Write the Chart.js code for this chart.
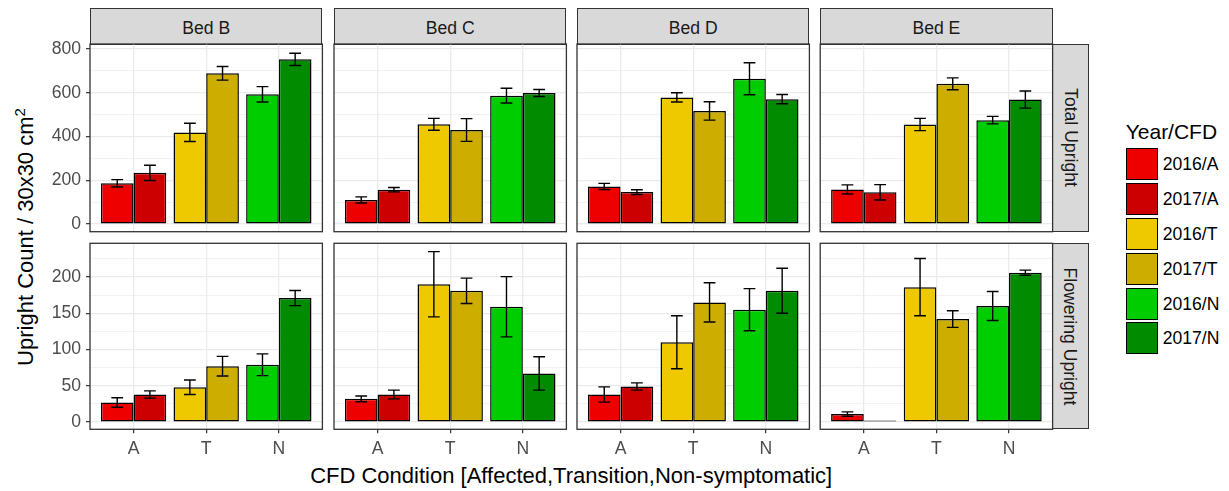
<!DOCTYPE html>
<html>
<head>
<meta charset="utf-8">
<script src="https://cdn.jsdelivr.net/npm/chart.js@4.4.1/dist/chart.umd.min.js"></script>
<style>
  body { margin: 0; background: #fff; }
  #wrap { position: relative; width: 1229px; height: 491px; overflow: hidden; background: #fff;
          font-family: 'Liberation Sans', Arial, sans-serif; }
  canvas { position: absolute; }
  .strip { position: absolute; box-sizing: border-box; background: #D9D9D9; border: 1.3px solid #333;
           color: #1A1A1A; font-size: 17.6px; display: flex; align-items: center; justify-content: center;
           white-space: nowrap; }
  .strip.top { padding-top: 4px; }
  .strip.side span { display: inline-block; transform: rotate(90deg); }
  #ytitle { position: absolute; left: 26px; top: 236.7px; transform: translate(-50%, -50%) rotate(-90deg);
            font-size: 22px; white-space: nowrap; color: #000; }
  #ytitle sup { font-size: 15px; line-height: 0; }
  #xtitle { position: absolute; left: 571.2px; top: 463.4px; transform: translateX(-50%);
            font-size: 22px; line-height: 26px; white-space: nowrap; color: #000; }
  #legtitle { position: absolute; left: 1125.7px; top: 120px; font-size: 21px; line-height: 24px; color: #000; }
  .key { position: absolute; box-sizing: border-box; width: 32px; height: 32px; border: 1.4px solid #000; }
  .klabel { position: absolute; font-size: 17.6px; line-height: 32px; color: #000; white-space: nowrap; }
</style>
</head>
<body>
<div id="wrap">
  <div id="ytitle">Upright Count / 30x30 cm<sup>2</sup></div>
  <div id="xtitle">CFD Condition [Affected,Transition,Non-symptomatic]</div>
  <div id="legtitle">Year/CFD</div>
</div>
<script>
// facets and categories
const beds = ['Bed B', 'Bed C', 'Bed D', 'Bed E'];
const facets = ['Total Upright', 'Flowering Upright'];
const conditions = ['A', 'T', 'N'];
const legendLabels = ['2016/A', '2017/A', '2016/T', '2017/T', '2016/N', '2017/N'];
const legendColors = ['#EE0000', '#CD0000', '#EEC900', '#CDAD00', '#00CD00', '#008B00'];
const colors2016 = legendColors.filter((c, i) => i % 2 === 0);
const colors2017 = legendColors.filter((c, i) => i % 2 === 1);

// means and standard errors, one row per bed (B, C, D, E), columns A, T, N
const total2016 = [[186, 419, 593], [110, 456, 587], [172, 579, 664], [158, 455, 475]];
const total2017 = [[234, 689, 753], [157, 430, 599], [146, 517, 571], [145, 641, 569]];
const totalSe2016 = [[17, 42, 35], [14, 27, 34], [14, 21, 73], [21, 28, 17]];
const totalSe2017 = [[35, 31, 28], [10, 52, 16], [11, 42, 21], [35, 27, 39]];

const flower2016 = [[27, 48, 79], [32, 190, 159], [38, 110, 155], [11, 186, 160]];
const flower2017 = [[38, 77, 171], [38, 181, 67], [49, 165, 181], [1, 142, 206]];
const flowerSe2016 = [[6.5, 10, 15], [4, 45, 41.5], [10.5, 36.5, 29], [3, 39.5, 20]];
const flowerSe2017 = [[5, 13.5, 10.5], [6, 17.5, 23], [5, 27, 31], [0, 11.5, 3.5]];

// y ticks per facet row
const totalTicks = [0, 200, 400, 600, 800];
const totalMinor = [100, 300, 500, 700];
const flowerTicks = [0, 50, 100, 150, 200];
const flowerMinor = [25, 75, 125, 175, 225];

// panel geometry
const panelLeft = [90, 334, 577, 820.2];
const panelWidth = 232.4;
const rowTop = [44, 243.3];
const rowHeight = [187.7, 186];
const yLimits = [[-35, 823], [-10, 246.5]];

Chart.defaults.font.family = "'Liberation Sans', Arial, sans-serif";

const wrap = document.getElementById('wrap');

const errorBars = {
    id: 'errorBars',
    afterDatasetsDraw(chart) {
        const ctx = chart.ctx;
        const yScale = chart.scales.y;
        chart.data.datasets.forEach((ds, i) => {
            const meta = chart.getDatasetMeta(i);
            meta.data.forEach((bar, j) => {
                const se = ds.errors[j];
                if (!se) return;
                const v = ds.data[j].y;
                const yTop = yScale.getPixelForValue(v + se);
                const yBot = yScale.getPixelForValue(v - se);
                const half = bar.width * 0.18;
                ctx.save();
                ctx.strokeStyle = '#000';
                ctx.lineWidth = 1.4;
                ctx.beginPath();
                ctx.moveTo(bar.x, yTop);
                ctx.lineTo(bar.x, yBot);
                ctx.moveTo(bar.x - half, yTop);
                ctx.lineTo(bar.x + half, yTop);
                ctx.moveTo(bar.x - half, yBot);
                ctx.lineTo(bar.x + half, yBot);
                ctx.stroke();
                ctx.restore();
            });
        });
    }
};

const panelBorder = {
    id: 'panelBorder',
    afterDraw(chart) {
        const a = chart.chartArea;
        const ctx = chart.ctx;
        ctx.save();
        ctx.strokeStyle = '#333333';
        ctx.lineWidth = 1.3;
        ctx.strokeRect(a.left, a.top, a.right - a.left, a.bottom - a.top);
        ctx.restore();
    }
};

function makePanel(r, c) {
    const leftCol = c === 0;
    const bottomRow = r === 1;
    const pad = 8;
    const x0 = leftCol ? 0 : Math.floor(panelLeft[c]) - pad;
    const y0 = Math.floor(rowTop[r]) - pad;
    const x1 = Math.ceil(panelLeft[c] + panelWidth) + pad;
    const y1 = bottomRow ? 491 : Math.ceil(rowTop[r] + rowHeight[r]) + pad;
    const plotBottom = rowTop[r] + rowHeight[r];

    const canvas = document.createElement('canvas');
    canvas.width = x1 - x0;
    canvas.height = y1 - y0;
    canvas.style.left = x0 + 'px';
    canvas.style.top = y0 + 'px';
    wrap.appendChild(canvas);

    const yWidth = leftCol ? panelLeft[c] - x0 : 0;
    const xHeight = bottomRow ? y1 - plotBottom : 0;

    const means = r === 0 ? [total2016[c], total2017[c]] : [flower2016[c], flower2017[c]];
    const errs = r === 0 ? [totalSe2016[c], totalSe2017[c]] : [flowerSe2016[c], flowerSe2017[c]];
    const major = r === 0 ? totalTicks : flowerTicks;
    const minor = r === 0 ? totalMinor : flowerMinor;
    const allTicks = major.concat(minor).sort((a, b) => a - b);

    new Chart(canvas.getContext('2d'), {
        type: 'bar',
        data: {
            datasets: [0, 1].map(k => ({
                label: k ? '2017' : '2016',
                data: conditions.map((cond, i) => ({ x: i + 1, y: means[k][i] })),
                errors: errs[k],
                backgroundColor: k ? colors2017 : colors2016,
                borderColor: '#000',
                borderWidth: 1.5,
                borderSkipped: false,
                minBarLength: 1.5,
                categoryPercentage: 0.9,
                barPercentage: 1
            }))
        },
        options: {
            responsive: false,
            animation: false,
            layout: {
                padding: {
                    left: leftCol ? 0 : panelLeft[c] - x0,
                    top: rowTop[r] - y0,
                    right: x1 - (panelLeft[c] + panelWidth),
                    bottom: bottomRow ? 0 : y1 - plotBottom
                }
            },
            plugins: { legend: { display: false }, tooltip: { enabled: false } },
            scales: {
                x: {
                    type: 'linear',
                    min: 0.4,
                    max: 3.6,
                    bounds: 'data',
                    offset: false,
                    afterBuildTicks: s => { s.ticks = conditions.map((cond, i) => ({ value: i + 1 })); },
                    afterFit: s => { s.height = xHeight; s.paddingLeft = 0; s.paddingRight = 0; },
                    border: { display: false },
                    grid: {
                        offset: false,
                        color: '#EBEBEB',
                        lineWidth: 1.3,
                        drawTicks: bottomRow,
                        tickLength: 4,
                        tickColor: '#333333',
                        tickWidth: 1.2
                    },
                    ticks: {
                        display: bottomRow,
                        autoSkip: false,
                        maxRotation: 0,
                        padding: 5,
                        color: '#4D4D4D',
                        font: { size: 17.6 },
                        callback: v => conditions[Math.round(v) - 1]
                    }
                },
                y: {
                    min: yLimits[r][0],
                    max: yLimits[r][1],
                    bounds: 'data',
                    afterBuildTicks: s => { s.ticks = allTicks.map(v => ({ value: v })); },
                    afterFit: s => { s.width = yWidth; s.paddingTop = 0; s.paddingBottom = 0; },
                    border: { display: false },
                    grid: {
                        color: '#EBEBEB',
                        lineWidth: ctx => major.includes(ctx.tick.value) ? 1.3 : 0.65,
                        drawTicks: leftCol,
                        tickLength: 4,
                        tickColor: ctx => major.includes(ctx.tick.value) ? '#333333' : 'rgba(0,0,0,0)',
                        tickWidth: 1.2
                    },
                    ticks: {
                        display: leftCol,
                        autoSkip: false,
                        padding: 5,
                        color: '#4D4D4D',
                        font: { size: 17.6 },
                        callback: v => major.includes(v) ? String(v) : ''
                    }
                }
            }
        },
        plugins: [errorBars, panelBorder]
    });
}

// strips
beds.forEach((bed, c) => {
    const s = document.createElement('div');
    s.className = 'strip top';
    s.style.left = panelLeft[c] + 'px';
    s.style.top = '8.3px';
    s.style.width = panelWidth + 'px';
    s.style.height = (rowTop[0] - 8.3 + 0.6) + 'px';
    s.textContent = bed;
    wrap.appendChild(s);
});
facets.forEach((facet, r) => {
    const s = document.createElement('div');
    s.className = 'strip side';
    s.style.left = (panelLeft[3] + panelWidth - 0.6) + 'px';
    s.style.top = rowTop[r] + 'px';
    s.style.width = '36.6px';
    s.style.height = rowHeight[r] + 'px';
    const t = document.createElement('span');
    t.textContent = facet;
    s.appendChild(t);
    wrap.appendChild(s);
});

// legend
legendLabels.forEach((lab, i) => {
    const top = 148.3 + i * 34.8;
    const k = document.createElement('div');
    k.className = 'key';
    k.style.left = '1125.7px';
    k.style.top = top + 'px';
    k.style.background = legendColors[i];
    wrap.appendChild(k);
    const l = document.createElement('div');
    l.className = 'klabel';
    l.style.left = '1162.7px';
    l.style.top = top + 'px';
    l.textContent = lab;
    wrap.appendChild(l);
});

facets.forEach((facet, r) => beds.forEach((bed, c) => makePanel(r, c)));
</script>
</body>
</html>
